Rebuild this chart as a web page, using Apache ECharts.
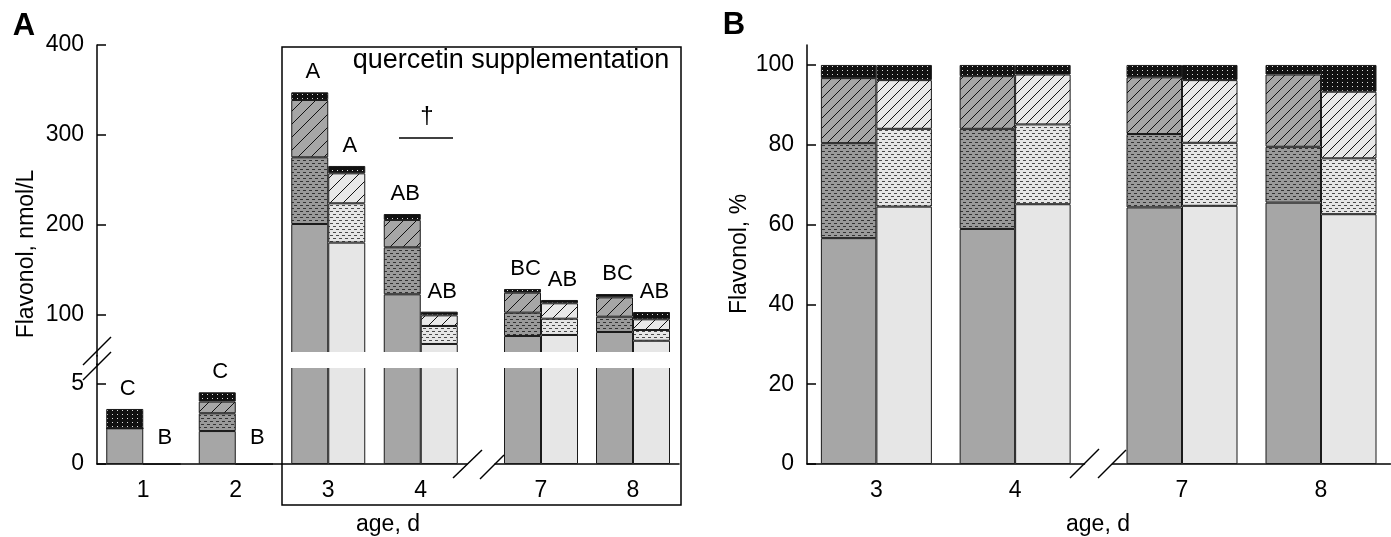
<!DOCTYPE html>
<html>
<head>
<meta charset="utf-8">
<title>Flavonol</title>
<script src="https://cdn.jsdelivr.net/npm/echarts@6/dist/echarts.min.js"></script>
<style>
  html, body { margin: 0; padding: 0; background: #fff; }
  #main { width: 1391px; height: 537px; }
</style>
</head>
<body>
<div id="main"></div>
<script>
// panel A - nmol/L, control (dark) and quercetin (light) bars per age
var daysA = ['1', '2', '3', '4', '7', '8'];
var ctrlBaseA  = [2.23, 2.06, 201.1, 123.0, 76.7, 81.1];
var ctrlDenseA = [0, 1.11, 74.1, 52.2, 25.9, 17.0];
var ctrlHatchA = [0, 0.73, 63.7, 30.4, 22.2, 21.5];
var ctrlTopA   = [1.21, 0.58, 8.5, 6.6, 4.1, 3.7];
var querBaseA  = [0, 0, 180.4, 67.8, 77.8, 71.4];
var querDenseA = [0, 0, 43.7, 20.0, 18.1, 11.9];
var querHatchA = [0, 0, 33.3, 11.8, 17.1, 11.9];
var querTopA   = [0, 0, 8.2, 4.1, 3.7, 8.1];
var ctrlLetters = ['C', 'C', 'A', 'AB', 'BC', 'BC'];
var querLetters = ['B', 'B', 'A', 'AB', 'AB', 'AB'];
var ticksAUpper = [100, 200, 300, 400];
var ticksALower = [0, 5];

// panel B - %
var daysB = ['3', '4', '7', '8'];
var ctrlBaseB  = [56.6, 58.9, 64.3, 65.5];
var ctrlDenseB = [23.8, 25.1, 18.4, 14.0];
var ctrlHatchB = [16.3, 13.2, 14.2, 18.1];
var ctrlTopB   = [3.3, 2.8, 3.1, 2.4];
var querBaseB  = [64.5, 65.1, 64.7, 62.6];
var querDenseB = [19.5, 20.0, 15.8, 14.0];
var querHatchB = [12.2, 12.5, 15.7, 16.7];
var querTopB   = [3.8, 2.4, 3.8, 6.7];
var ticksB = [0, 20, 40, 60, 80, 100];

var FONT = '"Liberation Sans", Arial, sans-serif';
var AX = { color: '#000', width: 1.5 };

// small canvas tiles used as bar fills
function pattern(w, h, bg, draw) {
    var c = document.createElement('canvas');
    c.width = w; c.height = h;
    var ctx = c.getContext('2d');
    ctx.fillStyle = bg;
    ctx.fillRect(0, 0, w, h);
    draw(ctx);
    return { image: c, repeat: 'repeat' };
}
function dashes(bg, fg) {
    return pattern(6, 6, bg, function (ctx) {
        ctx.fillStyle = fg;
        ctx.fillRect(0, 1, 3, 1);
        ctx.fillRect(3, 4, 3, 1);
    });
}
function hatch(bg, s) {
    return pattern(s, s, bg, function (ctx) {
        ctx.strokeStyle = '#111';
        ctx.lineWidth = 1;
        ctx.beginPath();
        ctx.moveTo(-1, s + 1); ctx.lineTo(s + 1, -1);
        ctx.moveTo(-1, 1); ctx.lineTo(1, -1);
        ctx.moveTo(s - 1, s + 1); ctx.lineTo(s + 1, s - 1);
        ctx.stroke();
    });
}
function dots() {
    return pattern(5, 4, '#111', function (ctx) {
        ctx.fillStyle = '#ddd';
        ctx.fillRect(2, 2, 1, 1);
    });
}

var ctrlStyleA = ['#a6a6a6', dashes('#9a9a9a', '#333'), hatch('#a6a6a6', 13), dots()];
var querStyleA = ['#e6e6e6', dashes('#e6e6e6', '#4a4a4a'), hatch('#e8e8e8', 13), dots()];
var ctrlStyleB = ['#a6a6a6', dashes('#9a9a9a', '#333'), hatch('#a6a6a6', 10), dots()];
var querStyleB = ['#e6e6e6', dashes('#e6e6e6', '#4a4a4a'), hatch('#e8e8e8', 10), dots()];

var grids = [], xAxes = [], yAxes = [], series = [];

function catAxis(cats, show) {
    return {
        type: 'category', data: cats, show: show,
        axisLine: { show: true, lineStyle: AX },
        axisTick: { show: false },
        axisLabel: { fontSize: 23, color: '#000', fontFamily: FONT, margin: 15 }
    };
}
function valAxis(min, max, ticks, show) {
    return {
        type: 'value', min: min, max: max, show: show,
        axisLine: { show: true, lineStyle: AX },
        axisTick: { show: true, inside: true, length: 9, lineStyle: AX, customValues: ticks },
        axisLabel: { fontSize: 23, color: '#000', fontFamily: FONT, margin: 13, customValues: ticks },
        splitLine: { show: false }
    };
}
function addGrid(box, x, y) {
    grids.push(box);
    x.gridIndex = grids.length - 1;
    y.gridIndex = grids.length - 1;
    xAxes.push(x);
    yAxes.push(y);
    return grids.length - 1;
}

function sum(arrs, i) {
    var s = 0;
    arrs.forEach(function (a) { s += a[i]; });
    return s;
}

// one stacked bar (4 layers) per category; letters only on the top layer
function addStack(idx, name, layers, styles, bw, letters, showFn) {
    layers.forEach(function (vals, k) {
        var isTop = k === layers.length - 1;
        var data = vals.map(function (v, i) {
            if (!isTop || !letters) return v;
            var tot = sum(layers, i);
            return {
                value: v,
                label: { show: showFn(tot), formatter: letters[i], distance: tot === 0 ? 15 : 9 }
            };
        });
        series.push({
            type: 'bar', name: name + k,
            xAxisIndex: idx, yAxisIndex: idx,
            stack: name + '_' + idx,
            barWidth: bw, barGap: '0%',
            data: data,
            itemStyle: { color: styles[k], borderColor: '#1a1a1a', borderWidth: 1 },
            label: { position: 'top', fontSize: 22, color: '#000', fontFamily: FONT, offset: [3, 0] },
            emphasis: { disabled: true },
            silent: true
        });
    });
}

function pick(arr, from, to) { return arr.slice(from, to); }

var ctrlA = [ctrlBaseA, ctrlDenseA, ctrlHatchA, ctrlTopA];
var querA = [querBaseA, querDenseA, querHatchA, querTopA];
var ctrlB = [ctrlBaseB, ctrlDenseB, ctrlHatchB, ctrlTopB];
var querB = [querBaseB, querDenseB, querHatchB, querTopB];

// panel A: upper part (54..400) and lower part (0..6.25), split left (1-4) / right (7-8)
var upperMin = 400 - 311 / 0.9, lowerMax = 6.25;
var partsA = [
    { box: { left: 97, top: 45, width: 370, height: 311 }, from: 0, to: 4, upper: true, yShow: true },
    { box: { left: 495, top: 45, width: 184, height: 311 }, from: 4, to: 6, upper: true, yShow: false },
    { box: { left: 97, top: 364, width: 370, height: 100 }, from: 0, to: 4, upper: false, yShow: true },
    { box: { left: 495, top: 364, width: 184, height: 100 }, from: 4, to: 6, upper: false, yShow: false }
];
partsA.forEach(function (p) {
    var idx = addGrid(p.box,
        catAxis(pick(daysA, p.from, p.to), !p.upper),
        p.upper ? valAxis(upperMin, 400, ticksAUpper, p.yShow) : valAxis(0, lowerMax, ticksALower, p.yShow));
    var show = p.upper ? function (t) { return t > lowerMax; } : function (t) { return t <= lowerMax; };
    addStack(idx, 'ctrl', ctrlA.map(function (a) { return pick(a, p.from, p.to); }), ctrlStyleA, 37,
        pick(ctrlLetters, p.from, p.to), show);
    addStack(idx, 'quer', querA.map(function (a) { return pick(a, p.from, p.to); }), querStyleA, 37,
        pick(querLetters, p.from, p.to), show);
});

// panel B: left (3, 4) and right (7, 8)
var partsB = [
    { box: { left: 807, top: 45, width: 277.5, height: 419 }, from: 0, to: 2, yShow: true },
    { box: { left: 1112.5, top: 45, width: 278, height: 419 }, from: 2, to: 4, yShow: false }
];
partsB.forEach(function (p) {
    var idx = addGrid(p.box, catAxis(pick(daysB, p.from, p.to), true), valAxis(0, 105, ticksB, p.yShow));
    addStack(idx, 'ctrl', ctrlB.map(function (a) { return pick(a, p.from, p.to); }), ctrlStyleB, 55.5);
    addStack(idx, 'quer', querB.map(function (a) { return pick(a, p.from, p.to); }), querStyleB, 55.5);
});

function txt(x, y, s, size, extra) {
    var o = {
        type: 'text', x: x, y: y, z: 100,
        style: { text: s, fontSize: size, fontFamily: FONT, fill: '#000', align: 'center', verticalAlign: 'middle' }
    };
    for (var k in extra) o[k] = extra[k];
    return o;
}
function seg(x1, y1, x2, y2) {
    return { type: 'line', z: 100, shape: { x1: x1, y1: y1, x2: x2, y2: y2 }, style: { stroke: '#000', lineWidth: 1.5 } };
}
function bold(x, y, s) {
    return {
        type: 'text', x: x, y: y, z: 100,
        style: { text: s, fontSize: 31, fontWeight: 'bold', fontFamily: FONT, fill: '#000', align: 'center', verticalAlign: 'middle' }
    };
}

var graphic = [
    // gap of the broken axis in panel A
    { type: 'rect', z: 90, shape: { x: 284, y: 352, width: 395, height: 16 }, style: { fill: '#fff' } },
    seg(97, 355, 97, 365),
    // quercetin box
    { type: 'rect', z: 100, shape: { x: 282, y: 47, width: 399, height: 458 }, style: { fill: 'none', stroke: '#000', lineWidth: 1.5 } },
    txt(511, 61, 'quercetin supplementation', 27),
    txt(427, 116, '\u2020', 24),
    seg(399, 138, 453, 138),
    // break marks
    seg(83, 365, 111, 337), seg(83, 380, 111, 352),
    seg(453, 478, 482, 450), seg(480, 479, 504, 455),
    seg(1070, 478, 1099, 449), seg(1098, 478, 1126, 450),
    // titles
    bold(24, 26, 'A'),
    bold(734, 25, 'B'),
    txt(27, 254, 'Flavonol, nmol/L', 23, { rotation: Math.PI / 2 }),
    txt(740, 254, 'Flavonol, %', 23, { rotation: Math.PI / 2 }),
    txt(388, 525, 'age, d', 23),
    txt(1098, 525, 'age, d', 23)
];

var chart = echarts.init(document.getElementById('main'));
chart.setOption({
    animation: false,
    grid: grids,
    xAxis: xAxes,
    yAxis: yAxes,
    series: series,
    graphic: graphic
});
</script>
</body>
</html>
